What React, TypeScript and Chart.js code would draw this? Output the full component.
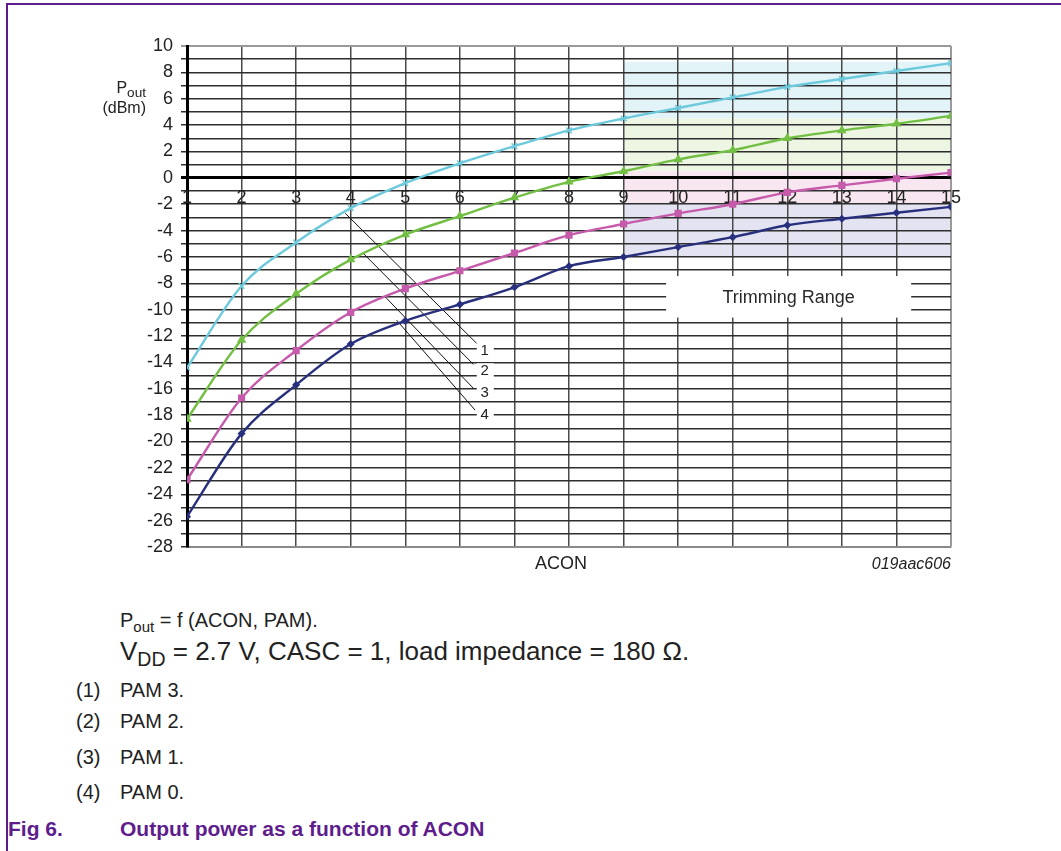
import React, { useEffect, useRef } from "react";
import { Chart, registerables } from "chart.js";

Chart.register(...registerables);

// ---- data ----
const acon = [1, 2, 3, 4, 5, 6, 7, 8, 9, 10, 11, 12, 13, 14, 15];
const pam3 = [-14.4, -8.2, -4.9, -2.3, -0.4, 1.1, 2.4, 3.6, 4.5, 5.3, 6.1, 6.9, 7.5, 8.1, 8.7];
const pam2 = [-18.3, -12.3, -8.8, -6.2, -4.3, -2.9, -1.5, -0.3, 0.5, 1.4, 2.1, 3.0, 3.6, 4.1, 4.7];
const pam1 = [-22.9, -16.7, -13.1, -10.2, -8.4, -7.05, -5.7, -4.35, -3.5, -2.7, -2.0, -1.1, -0.57, -0.07, 0.4];
const pam0 = [-25.7, -19.4, -15.7, -12.6, -10.85, -9.6, -8.3, -6.7, -6.0, -5.25, -4.5, -3.6, -3.1, -2.65, -2.2];

const xTickLabels = ["1", "2", "3", "4", "5", "6", "7", "8", "9", "10", "11", "12", "13", "14", "15"];
const yMin = -28;
const yMax = 10;

// trimming range bands (x 9..15)
const bandXFrom = 9;
const bandXTo = 15;
const bandLows = [4.5, 0.5, -1.9, -6.0];
const bandHighs = [8.8, 4.5, 0.5, -1.9];
const bandColors = ["#e3f4f8", "#edf5e3", "#f8e6f0", "#e3e3f1"];

// trimming range label box (data coords)
const trimBoxX = [9.78, 14.27];
const trimBoxY = [-7.45, -10.6];
const trimLabel = "Trimming Range";

// leader lines for curve labels
const leaderStartX = [3.9, 4.23, 4.63, 4.84];
const leaderStartY = [-2.69, -5.73, -9.02, -10.79];
const leaderEndX = [6.31, 6.25, 6.25, 6.28];
const leaderEndY = [-12.56, -14.15, -15.97, -17.62];
const leaderLabels = ["1", "2", "3", "4"];
const leaderLabelX = [6.42, 6.42, 6.42, 6.42];
const leaderLabelY = [-13.05, -14.6, -16.2, -17.9];

const FONT = "'Liberation Sans', Arial, Helvetica, sans-serif";
const PURPLE = "#5e1d8c";

const overlayPlugin = {
  id: "overlay",
  beforeDraw(chart: any) {
    const { ctx } = chart;
    const xs = chart.scales.x;
    const ys = chart.scales.y;
    ctx.save();
    for (let i = 0; i < bandLows.length; i++) {
      const x1 = xs.getPixelForValue(bandXFrom);
      const x2 = xs.getPixelForValue(bandXTo);
      const y1 = ys.getPixelForValue(bandHighs[i]);
      const y2 = ys.getPixelForValue(bandLows[i]);
      ctx.fillStyle = bandColors[i];
      ctx.fillRect(x1, y1, x2 - x1, y2 - y1);
    }
    ctx.restore();
  },
  beforeDatasetsDraw(chart: any) {
    const { ctx } = chart;
    const xs = chart.scales.x;
    const ys = chart.scales.y;
    ctx.save();
    // trimming range box
    const bx1 = xs.getPixelForValue(trimBoxX[0]);
    const bx2 = xs.getPixelForValue(trimBoxX[1]);
    const by1 = ys.getPixelForValue(trimBoxY[0]);
    const by2 = ys.getPixelForValue(trimBoxY[1]);
    ctx.fillStyle = "#ffffff";
    ctx.fillRect(bx1, by1, bx2 - bx1, by2 - by1);
    ctx.fillStyle = "#2a2a2a";
    ctx.font = `18px ${FONT}`;
    ctx.textAlign = "center";
    ctx.textBaseline = "middle";
    ctx.fillText(trimLabel, (bx1 + bx2) / 2, (by1 + by2) / 2 + 1);

    // x tick labels along the zero line
    const y0 = ys.getPixelForValue(0);
    ctx.font = `18px ${FONT}`;
    ctx.fillStyle = "#222";
    for (let i = 0; i < acon.length; i++) {
      ctx.fillText(xTickLabels[i], xs.getPixelForValue(acon[i]), y0 + 20);
    }

    // leader lines
    ctx.strokeStyle = "#111";
    ctx.lineWidth = 1;
    for (let i = 0; i < leaderLabels.length; i++) {
      ctx.beginPath();
      ctx.moveTo(xs.getPixelForValue(leaderStartX[i]), ys.getPixelForValue(leaderStartY[i]));
      ctx.lineTo(xs.getPixelForValue(leaderEndX[i]), ys.getPixelForValue(leaderEndY[i]));
      ctx.stroke();
    }
    ctx.font = `15px ${FONT}`;
    for (let i = 0; i < leaderLabels.length; i++) {
      const lx = xs.getPixelForValue(leaderLabelX[i]);
      const ly = ys.getPixelForValue(leaderLabelY[i]);
      ctx.fillStyle = "#ffffff";
      ctx.fillRect(lx - 6, ly - 7, 17, 14);
      ctx.fillStyle = "#222";
      ctx.textAlign = "center";
      ctx.fillText(leaderLabels[i], lx + 2, ly + 1);
    }
    ctx.restore();
  },
};

function ChartView() {
  const ref = useRef<HTMLCanvasElement | null>(null);
  useEffect(() => {
    if (!ref.current) return;
    const mk = (data: number[], color: string, style: string, r: number) => ({
      data: acon.map((x, i) => ({ x, y: data[i] })),
      borderColor: color,
      backgroundColor: color,
      borderWidth: 2.4,
      pointStyle: style,
      pointRadius: r,
      pointBorderWidth: 1.5,
      cubicInterpolationMode: "monotone" as const,
      fill: false,
    });
    const chart = new Chart(ref.current, {
      type: "line",
      data: {
        datasets: [
          mk(pam3, "#6ccadc", "crossRot", 4),
          mk(pam2, "#72bf44", "triangle", 4),
          mk(pam1, "#c65aab", "rect", 4),
          mk(pam0, "#28307e", "rectRot", 3),
        ] as any,
      },
      options: {
        responsive: false,
        animation: false,
        events: [],
        layout: { padding: { left: 0, top: 46, right: 110, bottom: 53 } },
        plugins: { legend: { display: false }, tooltip: { enabled: false } },
        scales: {
          x: {
            type: "linear",
            min: 1,
            max: 15,
            ticks: { display: false, stepSize: 1 },
            grid: {
              drawTicks: false,
              color: (c: any) => (c.tick && c.tick.value === 15 ? "#9a9a9a" : "#4a4a4a"),
              lineWidth: (c: any) => (c.tick && c.tick.value === 15 ? 2 : 1.5),
            },
            border: { display: true, color: "#8a8a8a", width: 2 },
            afterFit: (s: any) => {
              s.height = 0;
            },
          },
          y: {
            type: "linear",
            min: yMin,
            max: yMax,
            ticks: {
              stepSize: 1,
              autoSkip: false,
              padding: 8,
              color: "#222",
              font: { family: FONT, size: 18 },
              callback: (v: any) => (Number(v) % 2 === 0 ? String(v) : ""),
            },
            grid: {
              tickLength: 6,
              color: (c: any) => {
                const v = c.tick ? c.tick.value : 0;
                if (v === 0) return "#000";
                if (v === 10) return "#9a9a9a";
                return "#2e2e2e";
              },
              lineWidth: (c: any) => {
                const v = c.tick ? c.tick.value : 0;
                if (v === 0) return 3;
                if (v === 10) return 2;
                return 1.5;
              },
            },
            border: { display: true, color: "#000", width: 3 },
            afterFit: (s: any) => {
              s.width = 187;
            },
          },
        },
      },
      plugins: [overlayPlugin],
    });
    return () => chart.destroy();
  }, []);
  return (
    <canvas
      ref={ref}
      width={1061}
      height={600}
      style={{ position: "absolute", left: 0, top: 0, width: 1061, height: 600 }}
    />
  );
}

const abs = (left: number, centerY: number, size: number, extra: React.CSSProperties = {}) =>
  ({
    position: "absolute",
    left,
    top: centerY - size * 0.6,
    fontSize: size,
    lineHeight: `${size * 1.2}px`,
    whiteSpace: "nowrap",
    fontFamily: FONT,
    color: "#222",
    ...extra,
  } as React.CSSProperties);

const sub: React.CSSProperties = { fontSize: "0.75em", position: "relative", top: "0.3em" };
const subBig: React.CSSProperties = { fontSize: "0.85em", position: "relative", top: "0.3em" };

export default function App() {
  return (
    <div
      style={{
        position: "absolute",
        left: 0,
        top: 0,
        width: 1061,
        height: 851,
        background: "#fff",
        overflow: "hidden",
      }}
    >
      <div style={{ position: "absolute", left: 6, top: 3, width: 1061, height: 2, background: PURPLE }} />
      <div style={{ position: "absolute", left: 6, top: 3, width: 2, height: 851, background: PURPLE }} />
      <ChartView />
      {/* y-axis title */}
      <div style={{ ...abs(0, 88, 16), width: 146, textAlign: "right" }}>
        P<span style={subBig}>out</span>
      </div>
      <div style={{ ...abs(0, 108, 16), width: 146, textAlign: "right" }}>(dBm)</div>
      {/* x-axis title & code */}
      <div style={{ ...abs(0, 564, 18), width: 1122, textAlign: "center" }}>ACON</div>
      <div style={{ ...abs(0, 564, 16), width: 951, textAlign: "right", fontStyle: "italic" }}>019aac606</div>
      {/* caption */}
      <div style={abs(120, 620, 20)}>
        P<span style={sub}>out</span> = f (ACON, PAM).
      </div>
      <div style={abs(120, 652, 26)}>
        V<span style={sub}>DD</span> = 2.7 V, CASC = 1, load impedance = 180 Ω.
      </div>
      <div style={abs(76, 690, 20)}>(1)</div>
      <div style={abs(120, 690, 20)}>PAM 3.</div>
      <div style={abs(76, 721, 20)}>(2)</div>
      <div style={abs(120, 721, 20)}>PAM 2.</div>
      <div style={abs(76, 757, 20)}>(3)</div>
      <div style={abs(120, 757, 20)}>PAM 1.</div>
      <div style={abs(76, 792, 20)}>(4)</div>
      <div style={abs(120, 792, 20)}>PAM 0.</div>
      <div style={abs(8, 829, 21, { fontWeight: "bold", color: PURPLE })}>Fig 6.</div>
      <div style={abs(120, 829, 21, { fontWeight: "bold", color: PURPLE })}>Output power as a function of ACON</div>
    </div>
  );
}
